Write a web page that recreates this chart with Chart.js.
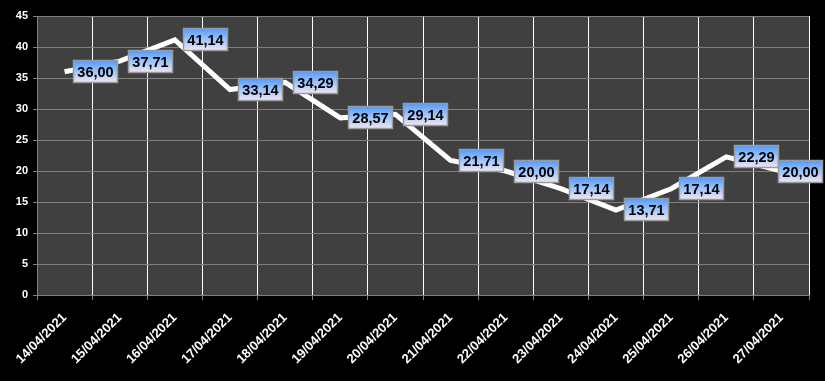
<!DOCTYPE html>
<html>
<head>
<meta charset="utf-8">
<script src="https://cdn.jsdelivr.net/npm/chart.js@4/dist/chart.umd.min.js"></script>
<style>
html,body{margin:0;padding:0;background:#000;}
canvas{display:block;}
</style>
</head>
<body>
<canvas id="c" width="825" height="381"></canvas>
<script>
const categories = ["14/04/2021","15/04/2021","16/04/2021","17/04/2021","18/04/2021","19/04/2021","20/04/2021","21/04/2021","22/04/2021","23/04/2021","24/04/2021","25/04/2021","26/04/2021","27/04/2021"];
const values = [36.00, 37.71, 41.14, 33.14, 34.29, 28.57, 29.14, 21.71, 20.00, 17.14, 13.71, 17.14, 22.29, 20.00];
const yTicks = [0,5,10,15,20,25,30,35,40,45];

const bgPlugin = {
  id: 'bg',
  beforeDraw(chart) {
    const ctx = chart.ctx, a = chart.chartArea;
    ctx.save();
    ctx.fillStyle = '#000';
    ctx.fillRect(0, 0, chart.width, chart.height);
    ctx.fillStyle = '#404040';
    ctx.fillRect(a.left, a.top, a.right - a.left, a.bottom - a.top);
    ctx.restore();
  }
};

const labelPlugin = {
  id: 'valueLabels',
  afterDatasetsDraw(chart) {
    const ctx = chart.ctx;
    const meta = chart.getDatasetMeta(0);
    ctx.save();
    ctx.font = 'bold 14.5px "Liberation Sans", Arial, sans-serif';
    ctx.textBaseline = 'middle';
    ctx.textAlign = 'center';
    meta.data.forEach((pt, i) => {
      const txt = values[i].toFixed(2).replace('.', ',');
      const tw = ctx.measureText(txt).width;
      const w = Math.round(tw + 9), h = 23;
      let x = Math.round(pt.x + 8);
      x = Math.min(x, chart.width - 2 - w);
      const y = Math.round(pt.y - h / 2);
      const g = ctx.createLinearGradient(0, y, 0, y + h);
      g.addColorStop(0, '#4f98ff');
      g.addColorStop(0.5, '#9cc4fb');
      g.addColorStop(1, '#f6e8f4');
      ctx.fillStyle = g;
      ctx.fillRect(x, y, w, h);
      ctx.strokeStyle = '#9a9a9a';
      ctx.lineWidth = 1.5;
      ctx.strokeRect(x + 0.5, y + 0.5, w - 1, h - 1);
      ctx.fillStyle = '#000';
      ctx.fillText(txt, x + w / 2, y + h / 2 + 1);
    });
    ctx.restore();
  }
};

new Chart(document.getElementById('c'), {
  type: 'line',
  data: {
    labels: categories,
    datasets: [{
      data: values,
      borderColor: '#ffffff',
      borderWidth: 5,
      pointRadius: 0,
      pointHoverRadius: 0,
      tension: 0,
      fill: false,
      borderJoinStyle: 'miter'
    }]
  },
  options: {
    responsive: false,
    animation: false,
    devicePixelRatio: 1,
    layout: { padding: { top: 16, right: 16, left: 0, bottom: 0 } },
    plugins: { legend: { display: false }, tooltip: { enabled: false } },
    scales: {
      x: {
        offset: true,
        grid: { offset: true, color: '#ffffff', lineWidth: 1, tickLength: 5, tickColor: '#808080', drawTicks: true },
        border: { color: '#808080', width: 1 },
        ticks: {
          color: '#ffffff', maxRotation: 45, minRotation: 45, autoSkip: false, padding: 10,
          font: { family: '"Liberation Sans", Arial, sans-serif', weight: 'bold', size: 13 }
        },
        afterFit(s) { s.height = 86; }
      },
      y: {
        min: 0, max: 45,
        afterBuildTicks(s) { s.ticks = yTicks.map(v => ({ value: v })); },
        grid: { color: '#808080', lineWidth: 1, tickLength: 4, tickColor: '#808080' },
        border: { color: '#808080', width: 1 },
        ticks: {
          color: '#ffffff', padding: 5,
          font: { family: '"Liberation Sans", Arial, sans-serif', weight: 'bold', size: 11 }
        },
        afterFit(s) { s.width = 37; }
      }
    }
  },
  plugins: [bgPlugin, labelPlugin]
});
</script>
</body>
</html>
